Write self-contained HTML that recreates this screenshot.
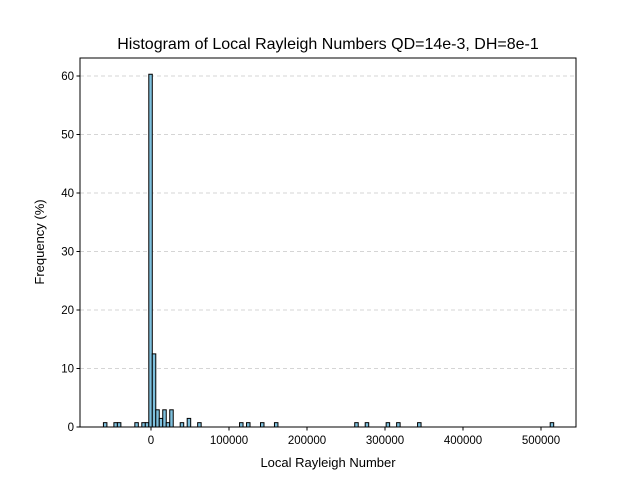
<!DOCTYPE html>
<html><head><meta charset="utf-8"><style>body{margin:0;background:#fff}svg{display:block;font-family:"Liberation Sans",sans-serif}</style></head>
<body>
<svg id="c" width="640" height="480"></svg>
<script>
const binStart = -61000;
const binWidth = 4475;
const binIndex = [0,3,4,9,11,12,13,14,15,16,17,18,19,22,24,27,39,41,45,49,72,75,81,84,90,128];
const binFreq = [0.74,0.74,0.74,0.74,0.74,0.74,60.3,12.5,2.94,1.47,2.94,0.74,2.94,0.74,1.47,0.74,0.74,0.74,0.74,0.74,0.74,0.74,0.74,0.74,0.74,0.74];
const xTicks = [0,100000,200000,300000,400000,500000];
const yTicks = [0,10,20,30,40,50,60];
const L=80,R=576,T=58,B=427;
const X=v=>151+(v/100000)*78;
const Y=v=>427-v*5.85;
const s=document.getElementById('c');const NS='http://www.w3.org/2000/svg';
function mk(t,a,txt){const e=document.createElementNS(NS,t);for(const k in a)e.setAttribute(k,a[k]);if(txt!=null)e.textContent=txt;s.appendChild(e);return e;}
yTicks.forEach(t=>{
 if(t>0){const g=mk('line',{x1:L,x2:R,y1:Y(t),y2:Y(t),stroke:'#c8c8c8','stroke-dasharray':'4,3','stroke-width':0.8});
 
 }
 const tk=mk('line',{x1:L-3.5,x2:L,y1:Y(t),y2:Y(t),stroke:'#000'});
 
 
 const lb=mk('text',{x:L-6,y:Y(t)+4,'text-anchor':'end','font-size':11.5},t);
 
 
});
binIndex.forEach((k,i)=>{
 const v0=binStart+k*binWidth,v1=v0+binWidth;
 const r=mk('rect',{x:X(v0),y:Y(binFreq[i]),width:X(v1)-X(v0),height:Y(0)-Y(binFreq[i]),fill:'#7ec0dd',stroke:'#000','stroke-width':1});
 
 
});
xTicks.forEach(t=>{
 const tk=mk('line',{x1:X(t),x2:X(t),y1:B,y2:B+3.5,stroke:'#000'});
 
 
 const lb=mk('text',{x:X(t),y:B+17,'text-anchor':'middle','font-size':11.5},t);
 
 
});
const f=mk('rect',{x:L,y:T,width:R-L,height:B-T,fill:'none',stroke:'#000','stroke-width':1});


const ti=mk('text',{x:328,y:49,'text-anchor':'middle','font-size':16},'Histogram of Local Rayleigh Numbers QD=14e-3, DH=8e-1');


const xl=mk('text',{x:328,y:467,'text-anchor':'middle','font-size':13},'Local Rayleigh Number');


const yl=mk('text',{x:44,y:242,'text-anchor':'middle','font-size':13,transform:'rotate(-90 44 242)'},'Frequency (%)');


</script>
</body></html>
